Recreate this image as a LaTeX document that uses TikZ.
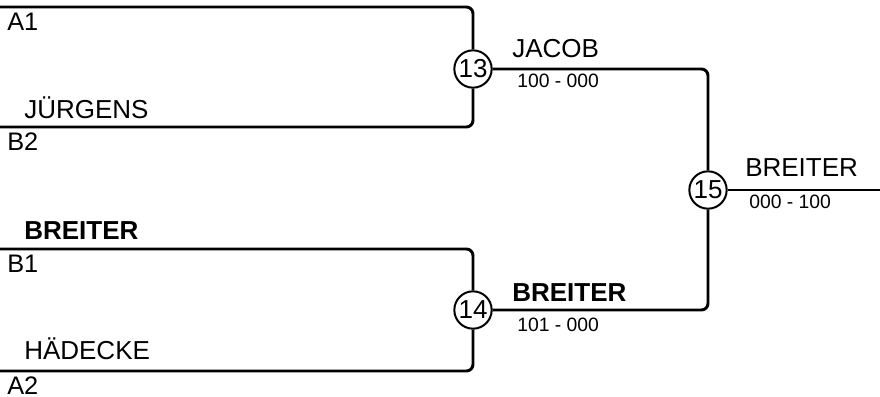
\documentclass[tikz,border=0pt]{standalone}
\usepackage{fontspec}
\setmainfont{Liberation Sans}
\usetikzlibrary{positioning,calc}

\begin{document}
\begin{tikzpicture}[x=0.75pt, y=-0.75pt,
  bracket/.style={line width=2.2pt, rounded corners=5pt},
  match/.style={draw, circle, line width=1.5pt, minimum size=28pt, inner sep=0pt, font=\fontsize{19.5}{20}\selectfont},
  player/.style={anchor=base west, inner sep=0pt, font=\fontsize{19.5}{20}\selectfont},
  slot/.style={anchor=base west, inner sep=0pt, font=\fontsize{19}{19}\selectfont},
  score/.style={anchor=base west, inner sep=0pt, font=\fontsize{14.5}{15}\selectfont}]
\useasboundingbox (0,0) rectangle (880,396);

% Startplaetze
\coordinate (a1) at (0,7);
\coordinate (b2) at (0,127);
\coordinate (b1) at (0,249);
\coordinate (a2) at (0,371);
\coordinate (out) at (880,190);

% Spiele
\node[match] (m13) at (473,69) {13};
\node[match] (m14) at (473,310) {14};
\node[match] (m15) at (708,190) {15};

% Linien
\draw[bracket] (a1) -| (m13);
\draw[bracket] (b2) -| (m13);
\draw[bracket] (b1) -| (m14);
\draw[bracket] (a2) -| (m14);
\draw[bracket] (m13) -| (m15);
\draw[bracket] (m14) -| (m15);
\draw[bracket] (m15) -- (out);

% Namen
\node[slot] (la1) at (7,30) {A1};
\node[player] (jue) at (24,118) {JÜRGENS};
\node[slot] (lb2) at (7,150) {B2};
\node[player, font=\fontsize{19.5}{20}\selectfont\bfseries] (bre1) at (24,239) {BREITER};
\node[slot] (lb1) at (7,272) {B1};
\node[player] (hae) at (24,359) {HÄDECKE};
\node[slot] (la2) at (7,394) {A2};

% Ergebnisse
\node[player] (jac) at (512,57) {JACOB};
\node[score] (s13) at (517,87) {100 - 000};
\node[player, font=\fontsize{19.5}{20}\selectfont\bfseries] (bre2) at (512,301) {BREITER};
\node[score] (s14) at (517,331) {101 - 000};
\node[player] (bre3) at (745,176) {BREITER};
\node[score] (s15) at (749,208) {000 - 100};
\end{tikzpicture}
\end{document}
